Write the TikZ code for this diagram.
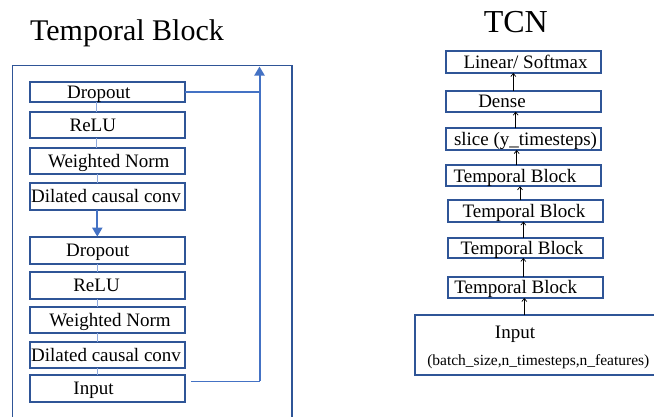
\documentclass[tikz,border=0pt]{standalone}
\usepackage{fontspec}
\setmainfont{Liberation Serif}
\usetikzlibrary{arrows.meta}
\definecolor{dblue}{HTML}{2F5597}
\definecolor{mblue}{HTML}{4472C4}
\definecolor{lblue}{HTML}{8FAADC}
\begin{document}
\begin{tikzpicture}[x=1pt,y=-1pt,
  box/.style={draw=dblue, line width=2pt, fill=white, inner sep=0pt, outer sep=0pt},
  lbox/.style={box, minimum width=155pt},
  rbox/.style={box, minimum width=155.3pt},
  t/.style={anchor=base, inner sep=0pt, font=\fontsize{19}{22}\selectfont},
  link/.style={draw=lblue, line width=1pt},
  uparrow/.style={draw=black, line width=0.7pt, -{Straight Barb[length=3pt,width=5pt]}},
  flow/.style={draw=mblue, line width=2pt, -{Triangle[length=9pt,width=10pt]}},
  skipthin/.style={draw=mblue, line width=1.2pt},
  title/.style={anchor=base, inner sep=0pt}
]
\useasboundingbox (0,0) rectangle (654,416);
\clip (0,0) rectangle (654,416);

% titles
\node[title, font=\fontsize{30}{36}\selectfont] (t1) at (127,40.7) {Temporal Block};
\node[title, font=\fontsize{32}{38}\selectfont] (t2) at (515.8,32.3) {TCN};

% outer frame
\node[draw=dblue, line width=1.5pt, inner sep=0pt, outer sep=0pt, minimum width=279.7pt, minimum height=370pt, anchor=north west] (frame) at (12.3,65.7) {};

% left stack
\node[lbox, minimum height=20.6pt] (d1) at (107.5,92) {};
\node[lbox, minimum height=26.3pt] (r1) at (107.5,125.2) {};
\node[lbox, minimum height=26pt]   (w1) at (107.5,161.3) {};
\node[lbox, minimum height=26.7pt] (c1) at (107.5,196.3) {};
\node[lbox, minimum height=27.3pt] (d2) at (107.5,250.3) {};
\node[lbox, minimum height=27.3pt] (r2) at (107.5,285.3) {};
\node[lbox, minimum height=26.3pt] (w2) at (107.5,320.2) {};
\node[lbox, minimum height=26.6pt] (c2) at (107.5,355) {};
\node[lbox, minimum height=26.7pt] (in) at (107.5,388.3) {};

\node[t] at ([xshift=-8.8pt,yshift=-6.3pt]d1.center) {Dropout};
\node[t] at ([xshift=-14.7pt,yshift=-6.3pt]r1.center) {ReLU};
\node[t] at ([xshift=1.3pt,yshift=-6.3pt]w1.center) {Weighted Norm};
\node[t] at ([xshift=-1.5pt,yshift=-6.3pt]c1.center) {Dilated causal conv};
\node[t] at ([xshift=-9.7pt,yshift=-6.3pt]d2.center) {Dropout};
\node[t] at ([xshift=-11pt,yshift=-6.3pt]r2.center) {ReLU};
\node[t] at ([xshift=2.5pt,yshift=-6.3pt]w2.center) {Weighted Norm};
\node[t] at ([xshift=-1.5pt,yshift=-6.3pt]c2.center) {Dilated causal conv};
\node[t] at ([xshift=-14pt,yshift=-6.3pt]in.center) {Input};

% thin links in left stack
\draw[link] ([xshift=-10.7pt]d1.south) -- ([xshift=-10.7pt]r1.north);
\draw[link] ([xshift=-10.7pt]r1.south) -- ([xshift=-10.7pt]w1.north);
\draw[link] ([xshift=-10.3pt]w1.south) -- ([xshift=-10.3pt]c1.north);
\draw[link] ([xshift=-10.2pt]d2.south) -- ([xshift=-10.2pt]r2.north);
\draw[link] ([xshift=-10.2pt]r2.south) -- ([xshift=-10.2pt]w2.north);
\draw[link] ([xshift=-10.2pt]w2.south) -- ([xshift=-10.2pt]c2.north);
\draw[link] ([xshift=-10.2pt]c2.south) -- ([xshift=-10.2pt]in.north);

% flow arrow between the two halves
\draw[flow] ([xshift=-10.2pt]c1.south) -- ([xshift=-10.2pt]d2.north);

% skip connection
\coordinate (skiptop) at (259.5,66.5);
\coordinate (skipcorner) at (259.5,381.3);
\draw[skipthin] ([xshift=6pt,yshift=7pt]in.east) -- (skipcorner);
\draw[flow] (skipcorner) -- (skiptop);
\draw[skipthin] (d1.east) -- (d1.east -| skiptop);

% right stack
\node[rbox, minimum height=22pt]   (lin) at (523.6,62) {};
\node[rbox, minimum height=21pt]   (den) at (523.5,101.2) {};
\node[rbox, minimum height=21.7pt] (sli) at (523.5,139.2) {};
\node[rbox, minimum height=21.3pt] (tb1) at (523.5,175.7) {};
\node[rbox, minimum height=21.3pt] (tb2) at (525.3,211) {};
\node[rbox, minimum height=20.3pt] (tb3) at (525.3,247.8) {};
\node[rbox, minimum height=21pt]   (tb4) at (525.3,287.5) {};
\node[box, minimum width=244pt, minimum height=60pt] (inp) at (537,345.3) {};

\node[t] at ([xshift=2pt,yshift=-6.3pt]lin.center) {Linear/ Softmax};
\node[t] at ([xshift=-21.5pt,yshift=-6.3pt]den.center) {Dense};
\node[t] at ([xshift=2pt,yshift=-6.3pt]sli.center) {slice (y\_timesteps)};
\node[t] at ([xshift=-8.5pt,yshift=-6.3pt]tb1.center) {Temporal Block};
\node[t] at ([xshift=-1.3pt,yshift=-6.3pt]tb2.center) {Temporal Block};
\node[t] at ([xshift=-3.3pt,yshift=-6.3pt]tb3.center) {Temporal Block};
\node[t] at ([xshift=-9.6pt,yshift=-6.3pt]tb4.center) {Temporal Block};
\node[t] at ([xshift=-22pt,yshift=7.3pt]inp.center) {Input};
\node[t, font=\fontsize{15.5}{18}\selectfont] at ([xshift=1.3pt,yshift=-20.4pt]inp.center) {(batch\_size,n\_timesteps,n\_features)};

% right arrows
\draw[uparrow] ([xshift=-10.2pt]den.north) -- ([xshift=-10.3pt]lin.south);
\draw[uparrow] ([xshift=-7.8pt]sli.north) -- ([xshift=-7.8pt]den.south);
\draw[uparrow] ([xshift=-6.8pt]tb1.north) -- ([xshift=-6.8pt]sli.south);
\draw[uparrow] ([xshift=-5.3pt]tb2.north) -- ([xshift=-3.5pt]tb1.south);
\draw[uparrow] ([xshift=-2pt]tb3.north) -- ([xshift=-2pt]tb2.south);
\draw[uparrow] ([xshift=-2pt]tb4.north) -- ([xshift=-2pt]tb3.south);
\draw[uparrow] ([xshift=-12.7pt]inp.north) -- ([xshift=-1pt]tb4.south);
\end{tikzpicture}
\end{document}
